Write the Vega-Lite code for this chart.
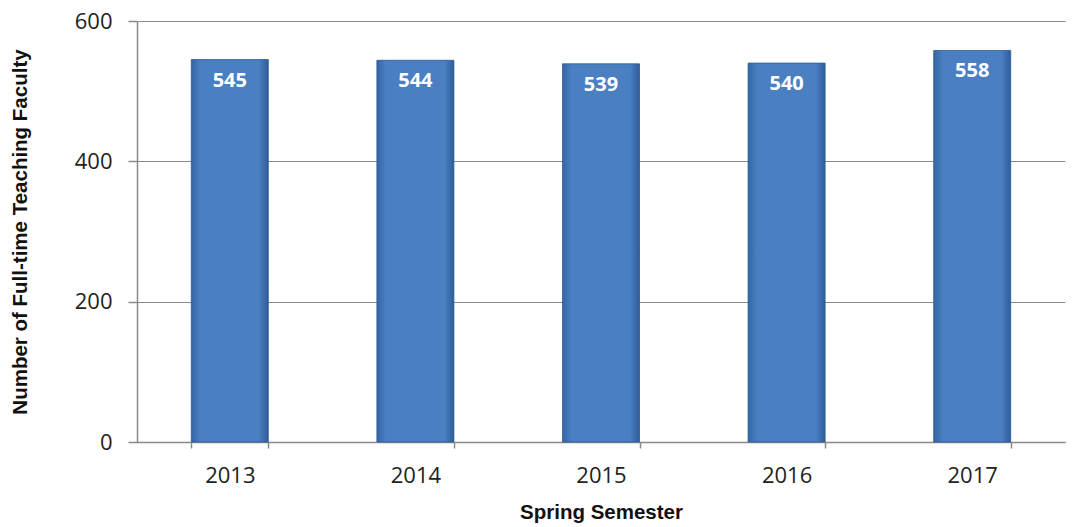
{
  "$schema": "https://vega.github.io/schema/vega-lite/v6.json",
  "width": 928,
  "height": 421,
  "autosize": {"type": "none"},
  "padding": {"left": 137, "top": 21, "right": 9, "bottom": 85},
  "background": "white",
  "data": {"values": [
    {"year": "2013", "faculty": 545},
    {"year": "2014", "faculty": 544},
    {"year": "2015", "faculty": 539},
    {"year": "2016", "faculty": 540},
    {"year": "2017", "faculty": 558}
  ]},
  "config": {
    "view": {"stroke": null},
    "axis": {"labelFont": "Open Sans", "titleFont": "Liberation Sans", "domainColor": "#8a8a8a", "tickColor": "#8a8a8a", "gridColor": "#8a8a8a"}
  },
  "encoding": {
    "x": {
      "field": "year", "type": "nominal",
      "scale": {"paddingInner": 0.585, "paddingOuter": 0.2925},
      "axis": {
        "title": "Spring Semester", "titleFontSize": 20.5, "titleFontWeight": "bold", "titleColor": "#111", "titlePadding": 16,
        "labelAngle": 0, "labelFontSize": 22, "labelColor": "#222", "labelPadding": 17,
        "tickSize": 6, "tickBand": "extent", "domainWidth": 1.5, "tickWidth": 1.5
      }
    },
    "y": {
      "field": "faculty", "type": "quantitative",
      "scale": {"domain": [0, 600]},
      "axis": {
        "title": "Number of Full-time Teaching Faculty", "titleFontSize": 20.5, "titleFontWeight": "bold", "titleColor": "#111", "titlePadding": 44,
        "values": [0, 200, 400, 600], "labelFontSize": 22, "labelColor": "#222", "labelPadding": 16,
        "tickSize": 9, "grid": true, "gridWidth": 1.2, "domainWidth": 1.5, "tickWidth": 1.5
      }
    }
  },
  "layer": [
    {
      "mark": {
        "type": "bar",
        "stroke": "#2c5a93", "strokeWidth": 0.8,
        "color": {
          "gradient": "linear", "x1": 0, "y1": 0, "x2": 1, "y2": 0,
          "stops": [
            {"offset": 0, "color": "#3566a6"},
            {"offset": 0.12, "color": "#4a7fc2"},
            {"offset": 0.88, "color": "#4a7fc2"},
            {"offset": 1, "color": "#2e5c99"}
          ]
        }
      }
    },
    {
      "mark": {"type": "text", "baseline": "middle", "dy": 21, "font": "Open Sans", "fontSize": 20, "fontWeight": "bold", "color": "white"},
      "encoding": {"text": {"field": "faculty", "type": "quantitative"}}
    }
  ]
}
